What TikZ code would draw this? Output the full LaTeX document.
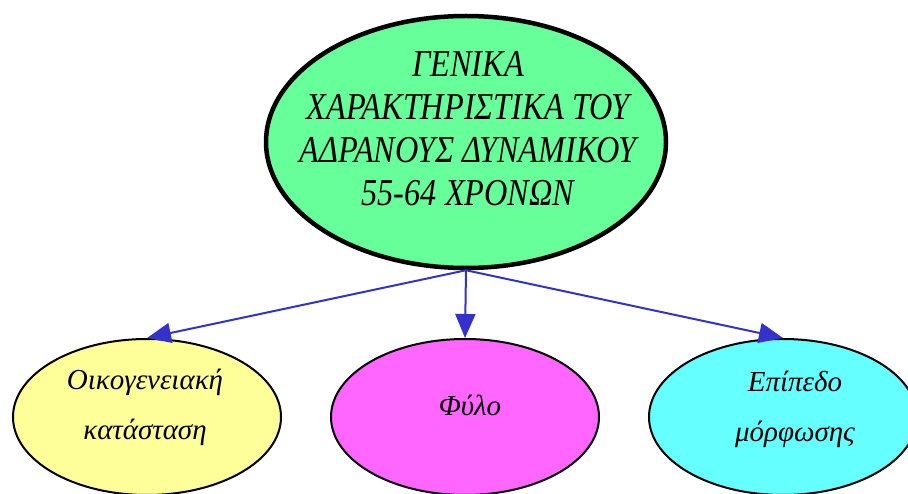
\documentclass[tikz,border=0pt]{standalone}
\usepackage{fontspec}
\setmainfont{Liberation Serif}
\newfontfamily\kopffont[FakeStretch=0.85]{Liberation Serif}
\usetikzlibrary{shapes.geometric,arrows.meta}

\definecolor{kopfgruen}{HTML}{66FF99}
\definecolor{hellgelb}{HTML}{FFFF99}
\definecolor{rosa}{HTML}{FF66FF}
\definecolor{tuerkis}{HTML}{66FFFF}
\definecolor{pfeilblau}{HTML}{3333CC}

\begin{document}
\begin{tikzpicture}[x=1pt, y=1pt, >={Triangle[length=24pt,width=20pt]},
    blase/.style={ellipse, draw=black, line width=2pt, inner sep=0pt,
        minimum width=268pt, minimum height=156pt},
    blasentext/.style={align=center, font=\itshape\fontsize{29}{50}\selectfont},
    pfeil/.style={->, draw=pfeilblau, fill=pfeilblau, line width=2pt}]

    % Rahmen
    \useasboundingbox (0,0) rectangle (908,493);
    \clip (0,0) rectangle (908,493);

    % Oberbegriff
    \node[ellipse, draw=black, line width=4.5pt, fill=kopfgruen, inner sep=0pt,
        minimum width=400pt, minimum height=252pt] (kopf) at (466,351) {};
    \node[align=center, font=\kopffont\itshape\fontsize{38}{43}\selectfont]
        (kopftext) at (468,364)
        {ΓΕΝΙΚΑ\\ΧΑΡΑΚΤΗΡΙΣΤΙΚΑ ΤΟΥ\\ΑΔΡΑΝΟΥΣ ΔΥΝΑΜΙΚΟΥ\\55-64 ΧΡΟΝΩΝ};

    % Merkmale unten
    \node[blase, fill=hellgelb] (familie) at (147,76) {};
    \node[blase, fill=rosa] (geschlecht) at (465,76) {};
    \node[blase, fill=tuerkis] (bildung) at (783,76) {};

    \node[blasentext] (familietext) at (145,86) {Οικογενειακή\\κατάσταση};
    \node[blasentext] (geschlechttext) at (470,88) {Φύλο};
    \node[blasentext] (bildungtext) at (795,84) {Επίπεδο\\μόρφωσης};

    % Pfeile
    \draw[pfeil] (kopf.south) -- (familie.north);
    \draw[pfeil] (kopf.south) -- (geschlecht.north);
    \draw[pfeil] (kopf.south) -- (bildung.north);

\end{tikzpicture}
\end{document}
